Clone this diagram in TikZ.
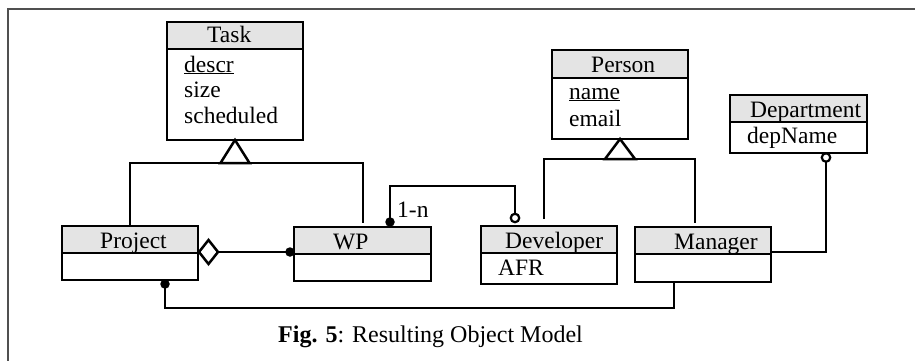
\documentclass[tikz,border=0pt]{standalone}
\usepackage{fontspec}
\setmainfont{Liberation Serif}
\usetikzlibrary{shapes.geometric,calc}
\definecolor{hdrgray}{HTML}{E4E4E4}
\definecolor{framegray}{HTML}{505050}
\newcommand\clsfont{\fontsize{23.5}{26}\selectfont}
\begin{document}
\begin{tikzpicture}[x=1pt,y=-1pt,
  box/.style={draw, line width=2.5pt, inner sep=0pt, outer sep=0pt, anchor=north west},
  hdr/.style={box, fill=hdrgray},
  txt/.style={anchor=base west, inner sep=0pt, font=\clsfont},
  conn/.style={line width=2.5pt},
  dot/.style={circle, fill=black, inner sep=0pt, minimum size=9.5pt},
  ring/.style={circle, draw=black, fill=white, line width=2.2pt, inner sep=0pt, minimum size=8.5pt},
]
\useasboundingbox (0,0) rectangle (915,361);
\draw[framegray, line width=1.4pt] (8,361) -- (8,9) -- (915,9);

% Task
\node[hdr, minimum width=136pt, minimum height=27pt] (taskH) at (167,22) {};
\node[box, minimum width=136pt, minimum height=91pt] (taskB) at (167,49) {};
\node[txt] (taskT) at (207,43) {Task};
\node[txt] (taskA1) at (184,72) {\underline{descr}};
\node[txt] (taskA2) at (184,97) {size};
\node[txt] (taskA3) at (184,123) {scheduled};

% Project
\node[hdr, minimum width=136pt, minimum height=27pt] (projH) at (62,226) {};
\node[box, minimum width=136pt, minimum height=27pt] (projB) at (62,253) {};
\node[txt] (projT) at (100,248) {Project};

% WP
\node[hdr, minimum width=137pt, minimum height=27pt] (wpH) at (294,227) {};
\node[box, minimum width=137pt, minimum height=27pt] (wpB) at (294,254) {};
\node[txt] (wpT) at (333,249) {WP};

% Person
\node[hdr, minimum width=136pt, minimum height=28pt] (personH) at (552,50) {};
\node[box, minimum width=136pt, minimum height=61pt] (personB) at (552,78) {};
\node[txt] (personT) at (591,72) {Person};
\node[txt] (personA1) at (569,99) {\underline{name}};
\node[txt] (personA2) at (569,126) {email};

% Department
\node[hdr, minimum width=137pt, minimum height=27pt] (deptH) at (730,95) {};
\node[box, minimum width=137pt, minimum height=31pt] (deptB) at (730,122) {};
\node[txt] (deptT) at (750,117) {Department};
\node[txt] (deptA1) at (747,143) {depName};

% Developer
\node[hdr, minimum width=136pt, minimum height=27pt] (devH) at (481,226) {};
\node[box, minimum width=136pt, minimum height=31pt] (devB) at (481,253) {};
\node[txt] (devT) at (505,248) {Developer};
\node[txt] (devA1) at (498,275) {AFR};

% Manager
\node[hdr, minimum width=136pt, minimum height=27pt] (mgrH) at (635,227) {};
\node[box, minimum width=136pt, minimum height=28pt] (mgrB) at (635,254) {};
\node[txt] (mgrT) at (674,249) {Manager};

% Task generalization
\coordinate (tgL) at (130,163);
\coordinate (tgR) at (363,163);
\draw[conn] (projH.north -| tgL) -- (tgL) -- (tgR) -- ($(wpH.north -| tgR)+(0,-4)$);
\draw[conn, fill=white] (taskB.south) -- ++(-14.5,23) -- ++(29,0) -- cycle;

% Person generalization
\coordinate (pgL) at (544,159);
\coordinate (pgR) at (695,159);
\draw[conn] ($(devH.north -| pgL)+(0,-7)$) -- (pgL) -- (pgR) -- ($(mgrH.north -| pgR)+(0,-4)$);
\draw[conn, fill=white] (personB.south) -- ++(-15,20) -- ++(30,0) -- cycle;

% Aggregation Project - WP
\node[diamond, draw, line width=2.5pt, fill=white, inner sep=0pt, outer sep=0pt, minimum width=19pt, minimum height=24pt, anchor=west] (agg) at ($(projH.south east)+(1,-1)$) {};
\coordinate (dAggC) at ($(agg.east -| wpH.west)+(-4,0)$);
\draw[conn] (agg.east) -- (dAggC);
\node[dot] (dAgg) at (dAggC) {};

% Project - Manager
\coordinate (pm1) at (165,308);
\coordinate (pm2) at (674,308);
\coordinate (dProjC) at (165,284);
\draw[conn] (dProjC) -- (pm1) -- (pm2) -- (mgrB.south -| pm2);
\node[dot] (dProj) at (dProjC) {};

% WP - Developer (1-n)
\coordinate (wd1) at (390,186);
\coordinate (wd2) at (515,186);
\coordinate (dWPC) at (390,222);
\coordinate (rDevC) at (515,218);
\draw[conn] (dWPC) -- (wd1) -- (wd2) -- (rDevC);
\node[dot] (dWP) at (dWPC) {};
\node[ring] (rDev) at (rDevC) {};
\node[txt] (lbl1n) at (397,217) {1-n};

% Manager - Department
\coordinate (md) at (826,252);
\coordinate (rDeptC) at (826,157.5);
\draw[conn] (mgrH.east |- md) -- (md) -- (rDeptC);
\node[ring] (rDept) at (rDeptC) {};

% Caption
\node[anchor=base west, inner sep=0pt, font=\fontsize{24}{28}\selectfont] (cap) at (278,342) {\textbf{Fig. 5}: Resulting Object Model};
\end{tikzpicture}
\end{document}
